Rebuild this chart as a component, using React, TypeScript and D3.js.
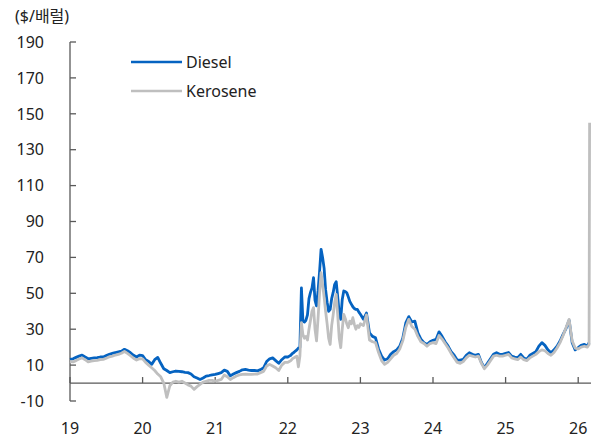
import React from "react";
import * as d3 from "d3";

const years = [2019, 2020, 2021, 2022, 2023, 2024, 2025];
const yTicks = [-10, 10, 30, 50, 70, 90, 110, 130, 150, 170, 190];
const xTickLabels = ["19", "20", "21", "22", "23", "24", "25", "26"];

const diesel2019 = [13.2, 13.5, 14.3, 15.0, 15.6, 14.5, 13.5, 13.8, 14.0, 14.2, 14.5, 14.5, 15.3, 16.0, 16.5, 17.0, 17.4, 17.8, 18.8, 18.0, 16.9, 15.5, 14.5, 15.6];
const kero2019 = [12.0, 11.8, 12.5, 13.4, 14.0, 13.0, 11.8, 12.2, 12.5, 12.6, 13.0, 13.2, 13.8, 14.6, 15.0, 15.6, 16.0, 16.6, 17.6, 16.5, 15.2, 13.8, 12.8, 13.6];
const diesel2020 = [15.3, 13.0, 12.0, 10.4, 13.0, 14.3, 11.0, 8.0, 7.0, 5.8, 6.3, 6.7, 6.5, 6.3, 6.0, 5.8, 5.0, 3.5, 2.8, 2.0, 2.8, 3.9, 4.2, 4.6];
const kero2020 = [13.5, 11.5, 10.0, 8.5, 7.0, 5.0, 3.5, 0.0, -8.0, -1.5, 0.5, 1.0, 0.5, 1.0, 0.0, -1.0, -1.7, -3.5, -2.0, -0.7, 0.5, 1.0, 1.5, 1.5];
const diesel2021 = [4.8, 5.3, 5.8, 7.2, 6.5, 4.0, 5.0, 5.8, 6.5, 7.4, 7.6, 7.2, 7.0, 7.0, 6.8, 7.5, 8.5, 12.0, 13.5, 14.0, 12.5, 11.0, 13.0, 14.5];
const kero2021 = [1.0, 1.5, 2.0, 4.5, 3.5, 2.0, 3.0, 3.9, 4.5, 4.8, 5.0, 4.8, 4.8, 5.0, 5.0, 5.8, 6.5, 9.5, 10.4, 9.5, 8.5, 7.0, 10.0, 11.5];
const diesel2022 = [14.5, 15.0, 15.5, 16.5, 17.0, 17.8, 18.5, 19.5, 20.0, 53.0, 34.5, 34.0, 35.0, 38.0, 47.0, 50.5, 53.0, 58.7, 46.0, 43.0, 51.3, 62.0, 74.5, 70.0, 64.0, 52.0, 45.0, 40.0, 41.0, 47.0, 50.5, 55.0, 56.5, 48.0, 39.0, 35.5, 46.6, 51.3, 51.0, 50.3, 48.0, 45.5, 44.0, 42.5, 41.5, 41.0, 41.0, 39.5];
const kero2022 = [11.5, 12.0, 12.5, 13.5, 14.0, 14.5, 15.0, 9.0, 15.0, 33.6, 27.0, 25.0, 26.0, 24.0, 30.0, 35.0, 40.0, 42.0, 30.0, 23.5, 36.0, 50.0, 61.5, 55.0, 48.0, 40.0, 33.0, 25.0, 21.5, 32.0, 38.0, 45.0, 49.4, 38.0, 25.0, 19.7, 30.0, 38.3, 36.0, 33.0, 30.8, 34.5, 33.0, 36.4, 32.7, 30.0, 32.0, 31.0];
const diesel2023 = [38.3, 35.5, 39.0, 28.0, 26.0, 25.2, 19.0, 15.0, 12.8, 13.5, 16.0, 17.5, 18.5, 20.5, 25.0, 33.5, 37.0, 34.0, 34.5, 28.0, 24.5, 22.5, 21.5, 23.0];
const kero2023 = [33.0, 32.0, 38.0, 24.0, 23.0, 22.5, 17.0, 12.5, 10.4, 11.5, 13.5, 15.5, 16.5, 19.0, 23.5, 31.0, 35.5, 31.5, 30.0, 26.0, 23.0, 22.0, 20.5, 22.0];
const diesel2024 = [23.8, 24.3, 28.5, 26.0, 23.0, 20.6, 17.5, 15.5, 12.8, 12.8, 13.2, 15.5, 16.9, 16.0, 15.5, 16.0, 11.5, 8.5, 11.0, 13.5, 16.0, 16.9, 16.0, 16.0];
const kero2024 = [22.5, 22.0, 26.5, 24.5, 22.0, 19.5, 16.5, 14.0, 11.5, 11.0, 12.0, 14.0, 15.5, 15.0, 14.5, 15.0, 11.0, 8.0, 10.0, 12.5, 15.0, 15.5, 15.0, 15.0];
const diesel2025 = [16.5, 17.0, 15.0, 14.5, 14.1, 16.0, 14.0, 13.2, 15.5, 16.5, 17.5, 20.6, 22.5, 21.0, 18.5, 16.9, 18.5, 20.5, 23.4, 27.1, 30.5, 35.0, 22.5, 18.5];
const kero2025 = [15.5, 16.0, 14.0, 13.5, 13.0, 14.5, 13.0, 12.5, 14.0, 15.0, 16.0, 17.5, 18.5, 18.0, 16.5, 15.5, 17.0, 19.5, 22.5, 26.5, 31.0, 35.5, 23.5, 19.5];
const dates2026 = [2026.0, 2026.04, 2026.085, 2026.125, 2026.15, 2026.157];
const diesel2026 = [19.7, 21.0, 21.5, 20.6, 22.5, 22.5];
const kero2026 = [19.0, 20.0, 20.5, 20.0, 21.5, 145];

const dieselByYear = [diesel2019, diesel2020, diesel2021, diesel2022, diesel2023, diesel2024, diesel2025];
const keroByYear = [kero2019, kero2020, kero2021, kero2022, kero2023, kero2024, kero2025];

type Pt = { t: number; v: number };
function build(byYear: number[][], last: number[]): Pt[] {
  const out: Pt[] = [];
  byYear.forEach((arr, yi) => {
    arr.forEach((v, i) => out.push({ t: years[yi] + i / arr.length, v }));
  });
  dates2026.forEach((t, i) => out.push({ t, v: last[i] }));
  return out;
}

const dieselData = build(dieselByYear, diesel2026);
const keroData = build(keroByYear, kero2026);

const W = 591;
const H = 439;
const FONT = "'Noto Sans', 'Noto Sans CJK KR', sans-serif";

export default function App() {
  const x = d3.scaleLinear().domain([2019, 2026]).range([70, 578.2]);
  const y = d3.scaleLinear().domain([-10, 190]).range([401, 42]);
  const line = d3
    .line<Pt>()
    .x((d) => x(d.t))
    .y((d) => y(d.v));
  const axisColor = "#595959";
  const xTickVals = d3.range(2019, 2027);
  return (
    <div style={{ position: "absolute", left: 0, top: 0 }}>
      <svg width={W} height={H} style={{ display: "block" }} fontFamily={FONT}>
        <rect width={W} height={H} fill="#fff" />
        <text x={15} y={22} fontSize={16} fill="#222">($/배럴)</text>
        <line x1={70} x2={70} y1={y(190)} y2={y(-10)} stroke={axisColor} strokeWidth={1.3} />
        {yTicks.map((t) => (
          <g key={t}>
            <line x1={70} x2={76} y1={y(t)} y2={y(t)} stroke={axisColor} strokeWidth={1.3} />
            <text x={44} y={y(t)} dy="0.36em" textAnchor="end" fontSize={16} fill="#222">
              {t}
            </text>
          </g>
        ))}
        <line x1={70} x2={W} y1={y(0)} y2={y(0)} stroke={axisColor} strokeWidth={1.3} />
        {xTickVals.map((t, i) => (
          <g key={t}>
            <line x1={x(t)} x2={x(t)} y1={y(0)} y2={y(0) - 6} stroke={axisColor} strokeWidth={1.3} />
            <text x={x(t)} y={434} textAnchor="middle" fontSize={16} fill="#222">
              {xTickLabels[i]}
            </text>
          </g>
        ))}
        <path d={line(dieselData) || ""} fill="none" stroke="#0563C1" strokeWidth={2.8} strokeLinejoin="round" />
        <path d={line(keroData) || ""} fill="none" stroke="#BFBFBF" strokeWidth={2.8} strokeLinejoin="round" />
        <line x1={131} x2={182} y1={62} y2={62} stroke="#0563C1" strokeWidth={2.5} />
        <text x={186} y={62} dy="0.36em" fontSize={16} fill="#222">Diesel</text>
        <line x1={131} x2={182} y1={91} y2={91} stroke="#BFBFBF" strokeWidth={2.5} />
        <text x={186} y={91} dy="0.36em" fontSize={16} fill="#222">Kerosene</text>
      </svg>
    </div>
  );
}
